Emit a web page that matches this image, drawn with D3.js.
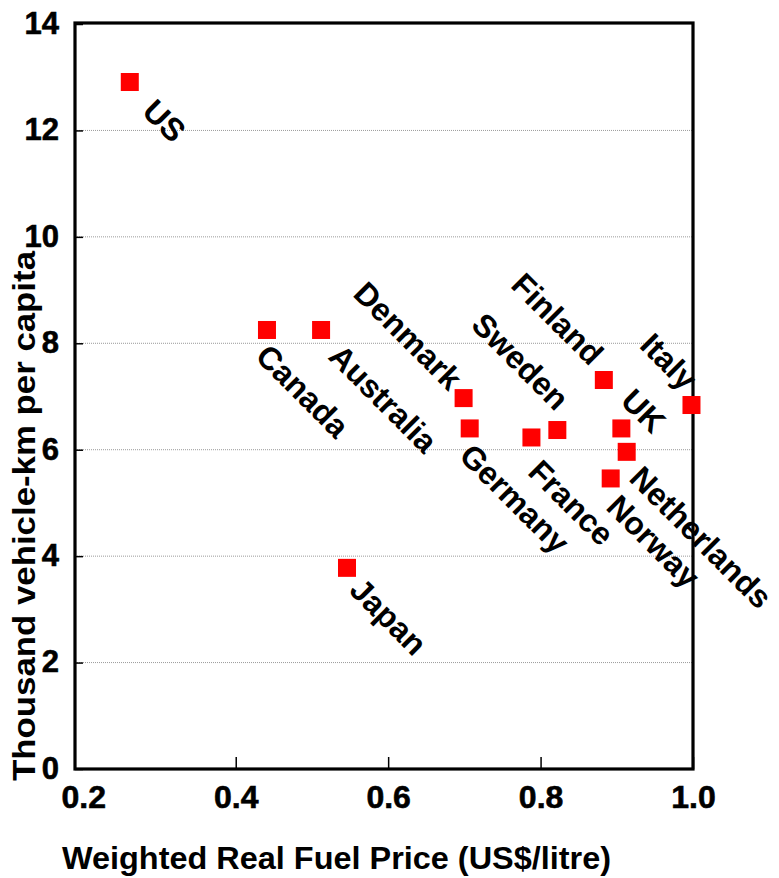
<!DOCTYPE html>
<html>
<head>
<meta charset="utf-8">
<script src="https://cdn.jsdelivr.net/npm/d3@7"></script>
<style>
  body { margin: 0; background: #fff; }
  text { font-family: "Liberation Sans", Arial, sans-serif; font-weight: bold; }
</style>
</head>
<body>
<div class="chart"></div>
<script>
// values
const countries = ["US", "Canada", "Australia", "Japan", "Denmark", "Germany", "France",
                   "Sweden", "Finland", "UK", "Netherlands", "Norway", "Italy"]
const fuelPrice = [0.261, 0.441, 0.512, 0.546, 0.699, 0.707, 0.788,
                   0.822, 0.883, 0.906, 0.913, 0.892, 0.998]
const vehicleKm = [12.91, 8.25, 8.25, 3.78, 6.97, 6.40, 6.23,
                   6.37, 7.31, 6.40, 5.96, 5.46, 6.84]
const xTicks = [0.2, 0.4, 0.6, 0.8, 1.0]
const yTicks = [0, 2, 4, 6, 8, 10, 12, 14]

const data = countries.map((c, i) => ({name: c, price: fuelPrice[i], km: vehicleKm[i]}))

// where each name sits relative to its square (dx, dy, anchor)
const labelPos = {
  "US": [11, 31, "start"], "Canada": [-13, 28, "start"], "Australia": [6, 28, "start"],
  "Japan": [1, 24, "start"], "Germany": [-12, 29, "start"], "France": [-5, 36, "start"],
  "Norway": [-6, 30, "start"], "Netherlands": [1, 28, "start"], "UK": [-2, -26, "start"],
  "Denmark": [-15, -6, "end"], "Sweden": [-2, -18, "end"], "Finland": [-14, -13, "end"],
  "Italy": [-8, -13, "end"]
}

const width = 779, height = 878
const frame = ({left: 75, top: 23, right: 693, bottom: 769})

const svg = d3.select(".chart").append("svg")
  .attr("width", width)
  .attr("height", height)

const x = d3.scaleLinear()
  .domain([0.2, 1.0])
  .range([83.3, frame.right])

const y = d3.scaleLinear()
  .domain([0, 14])
  .range([frame.bottom, 24])

// dotted grid
svg.append("g")
  .selectAll("line")
  .data(yTicks.filter(d => d > 0 && d < 14))
  .enter()
  .append("line")
  .attr("x1", frame.left)
  .attr("x2", frame.right)
  .attr("y1", d => y(d))
  .attr("y2", d => y(d))
  .attr("stroke", "#9a9a9a")
  .attr("stroke-width", 1)
  .attr("stroke-dasharray", "1,1")

// axes, ticks point inward
const xAxis = d3.axisBottom(x)
  .tickValues(xTicks)
  .tickSize(-12)
  .tickPadding(20)
  .tickFormat(d3.format(".1f"))

let xAxisGroup = svg.append("g")
  .attr("transform", `translate(0, ${frame.bottom})`)
  .call(xAxis)
xAxisGroup.select(".domain").remove()
xAxisGroup.selectAll(".tick line")
  .attr("stroke", "#000")
  .attr("stroke-width", 1.5)
  .attr("opacity", d => d == 0.2 ? 0 : 1)
xAxisGroup.selectAll(".tick text")
  .attr("font-size", 32)
  .attr("fill", "#000")
  .attr("stroke", "#000")
  .attr("stroke-width", 0.6)
  .attr("dy", "0.58em")
xAxisGroup.attr("font-family", null)

const yAxis = d3.axisLeft(y)
  .tickValues(yTicks)
  .tickSize(-8)
  .tickPadding(16)

let yAxisGroup = svg.append("g")
  .attr("transform", `translate(${frame.left}, 0)`)
  .call(yAxis)
yAxisGroup.select(".domain").remove()
yAxisGroup.selectAll(".tick line")
  .attr("stroke", "#000")
  .attr("stroke-width", 1.5)
yAxisGroup.selectAll(".tick text")
  .attr("font-size", 31)
  .attr("fill", "#000")
  .attr("stroke", "#000")
  .attr("stroke-width", 0.6)
  .attr("dy", "0.3em")
yAxisGroup.attr("font-family", null)

// frame
svg.append("rect")
  .attr("x", frame.left)
  .attr("y", frame.top)
  .attr("width", frame.right - frame.left)
  .attr("height", frame.bottom - frame.top)
  .attr("fill", "none")
  .attr("stroke", "#000")
  .attr("stroke-width", 3.2)

// points
const sq = 18
var dot = svg.append("g")
  .selectAll("g")
  .data(data)
  .enter()
  .append("g")

dot.append("rect")
  .attr("x", d => x(d.price) - sq / 2)
  .attr("y", d => y(d.km) - sq / 2)
  .attr("width", sq)
  .attr("height", sq)
  .attr("fill", "#ff0000")

dot.append("text")
  .attr("transform", d => {
    const p = labelPos[d.name]
    return `translate(${x(d.price) + p[0]}, ${y(d.km) + p[1]}) rotate(45)`
  })
  .attr("text-anchor", d => labelPos[d.name][2])
  .attr("font-size", 32)
  .attr("fill", "#000")
  .text(d => d.name)

// titles
svg.append("text")
  .attr("x", 62)
  .attr("y", 869)
  .attr("font-size", 32)
  .attr("textLength", 549)
  .attr("lengthAdjust", "spacingAndGlyphs")
  .text("Weighted Real Fuel Price (US$/litre)")

svg.append("text")
  .attr("transform", "translate(35, 781) rotate(-90)")
  .attr("font-size", 31)
  .attr("textLength", 530)
  .attr("lengthAdjust", "spacingAndGlyphs")
  .text("Thousand vehicle-km per capita")
</script>
</body>
</html>
